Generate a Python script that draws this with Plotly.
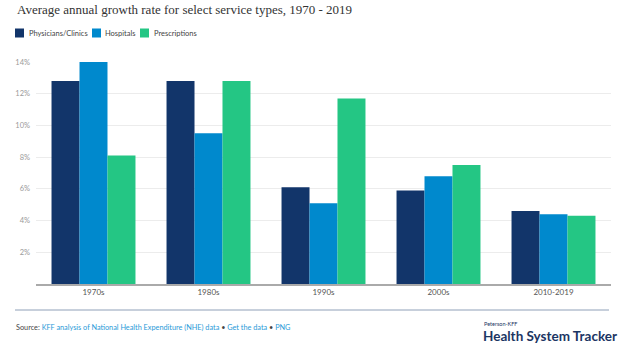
import plotly.graph_objects as go

categories = ["1970s", "1980s", "1990s", "2000s", "2010-2019"]
physicians = [12.8, 12.8, 6.1, 5.9, 4.6]
hospitals = [14.0, 9.5, 5.1, 6.8, 4.4]
prescriptions = [8.1, 12.8, 11.7, 7.5, 4.3]
series_names = ["Physicians/Clinics", "Hospitals", "Prescriptions"]
colors = ["#12356a", "#0089cd", "#24c684"]
y_ticks = [2, 4, 6, 8, 10, 12, 14]
y_tick_labels = [f"{v}%" for v in y_ticks]

W, H = 624, 355
ML, MR, MT, MB = 36, 13, 62, 71
PH = H - MT - MB
PW = W - ML - MR

def py(px):
    return (H - MB - px) / PH

def pxx(px):
    return (px - ML) / PW

SANS = "Lato, 'Noto Sans', sans-serif"

fig = go.Figure()
for name, vals, col in zip(series_names, [physicians, hospitals, prescriptions], colors):
    fig.add_trace(go.Bar(
        x=categories, y=vals, name=name,
        marker=dict(color=col, line=dict(width=0)),
        hovertemplate="%{x}: %{y:.1f}%<extra>" + name + "</extra>",
    ))

shapes = []
annotations = []

# Custom legend
leg_items = [(15, 27), (92, 103), (140, 152)]
for (sx, tx), name, col in zip(leg_items, series_names, colors):
    shapes.append(dict(type="rect", xref="paper", yref="paper",
                       x0=pxx(sx), x1=pxx(sx + 9), y0=py(28.5), y1=py(37.5),
                       fillcolor=col, line=dict(width=0)))
    annotations.append(dict(text=name, xref="paper", yref="paper",
                            x=pxx(tx), y=py(33), xanchor="left", yanchor="middle",
                            showarrow=False, font=dict(family=SANS, size=7.5, color="#444")))

# Footer separator
shapes.append(dict(type="line", xref="paper", yref="paper",
                   x0=pxx(15), x1=pxx(609), y0=py(310), y1=py(310),
                   line=dict(color="#8fa0b8", width=1)))

annotations.append(dict(
    text="Average annual growth rate for select service types, 1970 - 2019",
    xref="paper", yref="paper", x=pxx(15), y=py(10), xanchor="left", yanchor="middle",
    showarrow=False, font=dict(family="'Liberation Serif', 'DejaVu Serif', serif", size=13, color="#333")))

annotations.append(dict(
    text="Source: <span style='color:#2a9ad8'>KFF analysis of National Health Expenditure (NHE) data</span>"
         " • <span style='color:#2a9ad8'>Get the data</span> • <span style='color:#2a9ad8'>PNG</span>",
    xref="paper", yref="paper", x=pxx(14), y=py(327), xanchor="left", yanchor="middle",
    showarrow=False, font=dict(family=SANS, size=7.3, color="#444")))

annotations.append(dict(
    text="Peterson-KFF", xref="paper", yref="paper", x=pxx(482), y=py(324),
    xanchor="left", yanchor="middle", showarrow=False,
    font=dict(family=SANS, size=5.5, color="#1b3563")))
annotations.append(dict(
    text="<b>Health System Tracker</b>", xref="paper", yref="paper", x=pxx(481), y=py(335.5),
    xanchor="left", yanchor="middle", showarrow=False,
    font=dict(family=SANS, size=13.5, color="#1b3563")))

fig.update_layout(
    width=W, height=H,
    margin=dict(l=ML, r=MR, t=MT, b=MB, pad=0),
    paper_bgcolor="white", plot_bgcolor="white",
    barmode="group", bargap=0.27, bargroupgap=0,
    showlegend=False,
    shapes=shapes, annotations=annotations,
    xaxis=dict(showline=True, linecolor="#aaaaaa", linewidth=1.5, ticks="",
               tickfont=dict(family=SANS, size=8, color="#555"), fixedrange=True),
    yaxis=dict(range=[0, 14], tickvals=y_ticks, ticktext=y_tick_labels,
               showgrid=True, gridcolor="#ececec", gridwidth=1, zeroline=False,
               ticks="", ticklabelstandoff=5,
               tickfont=dict(family=SANS, size=7.5, color="#9a9a9a"), fixedrange=True),
)

fig.write_html("out.html", config={"displayModeBar": False},
               post_script="document.body.style.margin='0';document.body.style.overflow='hidden';")
